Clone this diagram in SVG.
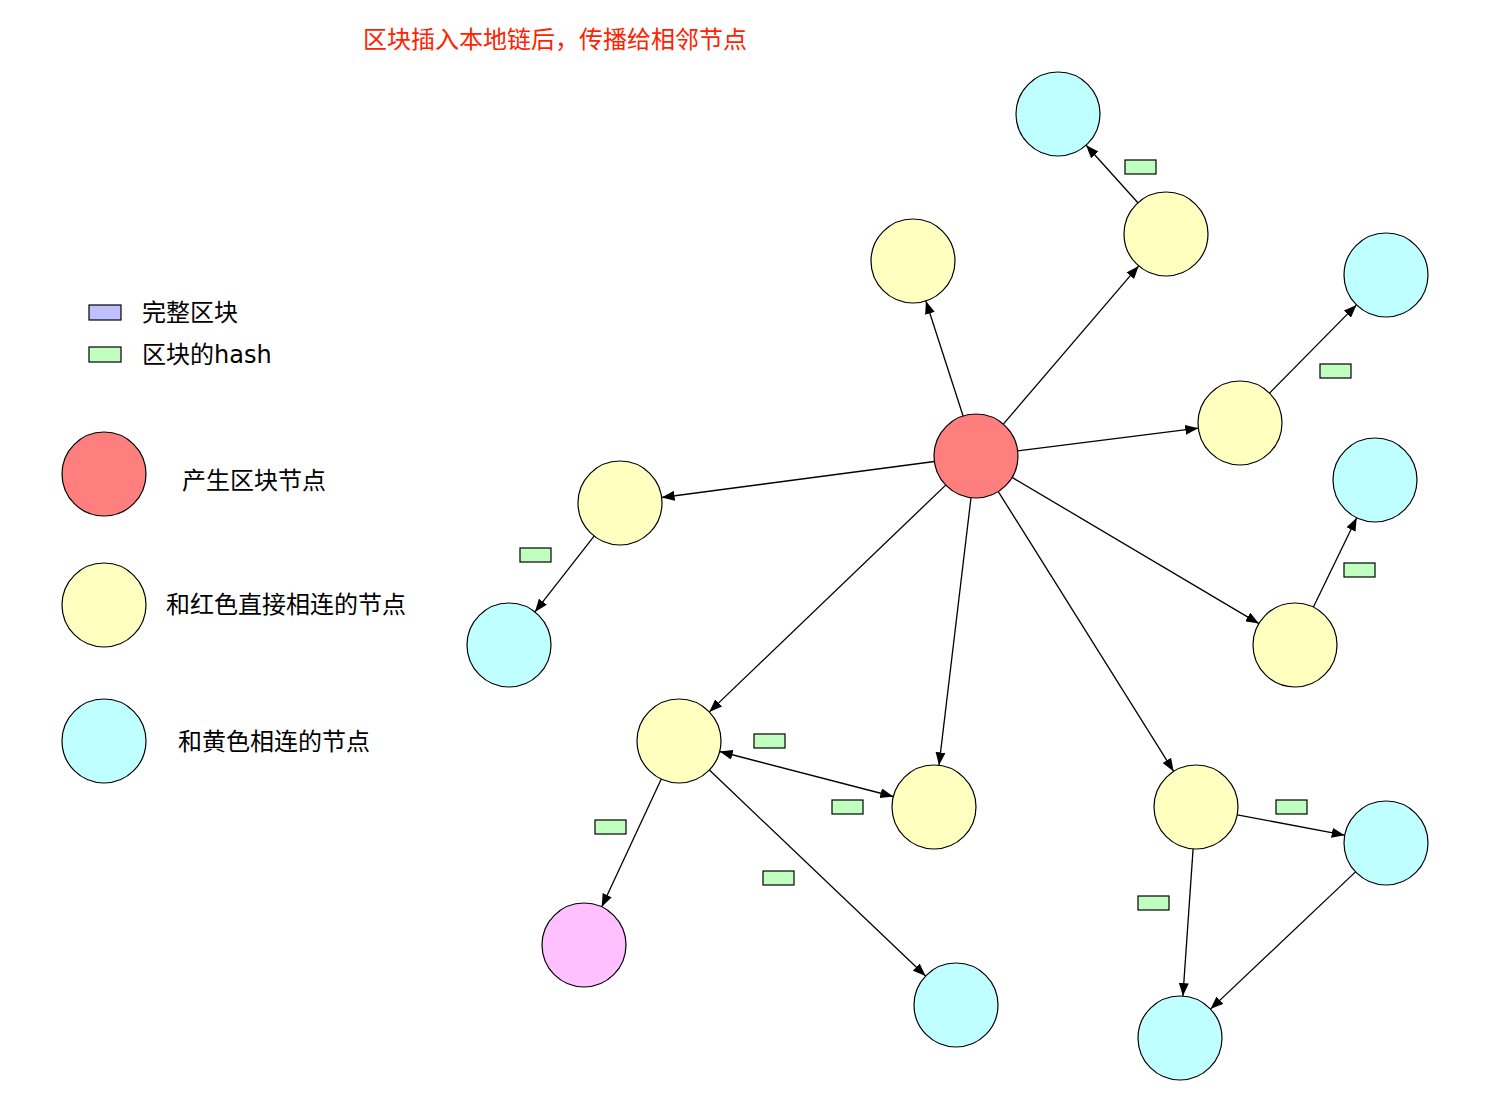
<svg xmlns="http://www.w3.org/2000/svg" width="1488" height="1118" viewBox="0 0 1488 1118">
<style>
.n{stroke:#000;stroke-width:1.2}
.red{fill:#FF7F7F}.yel{fill:#FFFFC0}.cyn{fill:#C0FFFF}.pnk{fill:#FFC0FF}
.hash{fill:#C0FFC0;stroke:#000;stroke-width:1.2}
.full{fill:#C0C0FF;stroke:#000;stroke-width:1.2}
.e{stroke:#000;stroke-width:1.3;fill:none;marker-end:url(#ah)}
.t{font-family:"DejaVu Sans","Noto Sans CJK SC",sans-serif;font-size:24px;fill:#000}
.title{font-family:"DejaVu Sans","Noto Sans CJK SC",sans-serif;font-size:24px;fill:#FF2200}
</style>
<defs>
<marker id="ah" markerUnits="userSpaceOnUse" markerWidth="14" markerHeight="10" refX="13" refY="5" orient="auto-start-reverse">
<path d="M0,0 L13,5 L0,10 Z" fill="#000"/>
</marker>
</defs>
<rect width="1488" height="1118" fill="#fff"/>
<text class="title" x="363" y="48">区块插入本地链后，传播给相邻节点</text>

<g id="legend">
<rect class="full" x="89" y="305" width="32" height="15"/>
<text class="t" x="142" y="321">完整区块</text>
<rect class="hash" x="89" y="347" width="32" height="15"/>
<text class="t" x="142" y="363">区块的hash</text>
<circle class="n red" cx="104" cy="474" r="42"/>
<text class="t" x="182" y="489">产生区块节点</text>
<circle class="n yel" cx="104" cy="605" r="42"/>
<text class="t" x="166" y="613">和红色直接相连的节点</text>
<circle class="n cyn" cx="104" cy="741" r="42"/>
<text class="t" x="178" y="750">和黄色相连的节点</text>
</g>

<g id="connectors">
<line class="e" x1="963.1" y1="416.0" x2="925.9" y2="301.0"/>
<line class="e" x1="1003.3" y1="424.1" x2="1138.7" y2="265.9"/>
<line class="e" x1="1017.7" y1="450.8" x2="1198.3" y2="428.2"/>
<line class="e" x1="934.4" y1="461.5" x2="661.6" y2="497.5"/>
<line class="e" x1="1012.1" y1="477.4" x2="1258.9" y2="623.6"/>
<line class="e" x1="945.7" y1="485.1" x2="709.3" y2="711.9"/>
<line class="e" x1="971.0" y1="497.7" x2="939.0" y2="765.3"/>
<line class="e" x1="998.3" y1="491.6" x2="1173.7" y2="771.4"/>
<line class="e" x1="1137.9" y1="202.8" x2="1086.1" y2="145.2"/>
<line class="e" x1="1269.5" y1="393.1" x2="1356.5" y2="304.9"/>
<line class="e" x1="594.1" y1="536.1" x2="534.9" y2="611.9"/>
<line class="e" x1="1313.3" y1="607.2" x2="1356.7" y2="517.8"/>
<line class="e" x1="719.7" y1="751.5" x2="893.3" y2="796.5" marker-start="url(#ah)"/>
<line class="e" x1="661.3" y1="779.1" x2="601.7" y2="906.9"/>
<line class="e" x1="709.4" y1="770.0" x2="925.6" y2="976.0"/>
<line class="e" x1="1237.3" y1="814.8" x2="1344.7" y2="835.2"/>
<line class="e" x1="1193.1" y1="848.9" x2="1182.9" y2="996.1"/>
<line class="e" x1="1355.5" y1="871.9" x2="1210.5" y2="1009.1"/>
</g>

<g id="hashes">
<rect class="hash" x="1125" y="160" width="31" height="14"/>
<rect class="hash" x="1320" y="364" width="31" height="14"/>
<rect class="hash" x="520" y="548" width="31" height="14"/>
<rect class="hash" x="1344" y="563" width="31" height="14"/>
<rect class="hash" x="754" y="734" width="31" height="14"/>
<rect class="hash" x="832" y="800" width="31" height="14"/>
<rect class="hash" x="595" y="820" width="31" height="14"/>
<rect class="hash" x="763" y="871" width="31" height="14"/>
<rect class="hash" x="1276" y="800" width="31" height="14"/>
<rect class="hash" x="1138" y="896" width="31" height="14"/>
</g>

<g id="node-red"><circle class="n red" cx="976" cy="456" r="42"/></g>
<g id="node-y1"><circle class="n yel" cx="913" cy="261" r="42"/></g>
<g id="node-y2"><circle class="n yel" cx="1166" cy="234" r="42"/></g>
<g id="node-y3"><circle class="n yel" cx="1240" cy="423" r="42"/></g>
<g id="node-y4"><circle class="n yel" cx="620" cy="503" r="42"/></g>
<g id="node-y5"><circle class="n yel" cx="1295" cy="645" r="42"/></g>
<g id="node-y6"><circle class="n yel" cx="679" cy="741" r="42"/></g>
<g id="node-y7"><circle class="n yel" cx="934" cy="807" r="42"/></g>
<g id="node-y8"><circle class="n yel" cx="1196" cy="807" r="42"/></g>
<g id="node-c1"><circle class="n cyn" cx="1058" cy="114" r="42"/></g>
<g id="node-c2"><circle class="n cyn" cx="1386" cy="275" r="42"/></g>
<g id="node-c3"><circle class="n cyn" cx="1375" cy="480" r="42"/></g>
<g id="node-c4"><circle class="n cyn" cx="509" cy="645" r="42"/></g>
<g id="node-c5"><circle class="n cyn" cx="956" cy="1005" r="42"/></g>
<g id="node-c6"><circle class="n cyn" cx="1386" cy="843" r="42"/></g>
<g id="node-c7"><circle class="n cyn" cx="1180" cy="1038" r="42"/></g>
<g id="node-pink"><circle class="n pnk" cx="584" cy="945" r="42"/></g>
</svg>
